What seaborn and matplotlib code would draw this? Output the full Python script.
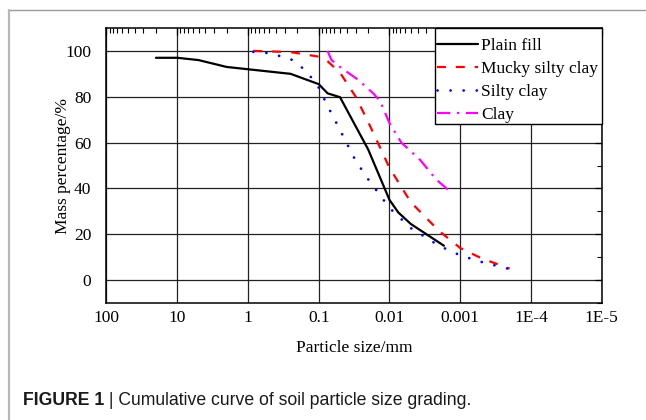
import matplotlib
matplotlib.use("Agg")
import matplotlib.pyplot as plt
from matplotlib.lines import Line2D
from matplotlib.patches import Rectangle
from matplotlib.ticker import FixedLocator, FixedFormatter, LogLocator, MultipleLocator, NullFormatter
import seaborn as sns
import pandas as pd

# Particle size (mm) and cumulative passing mass (%) for each soil
plain_size = [20, 10, 5, 2, 1, 0.25, 0.1, 0.075, 0.05, 0.02, 0.01, 0.0075, 0.005, 0.0017]
plain_pct = [97, 97, 96, 93, 92, 90, 85.5, 81.5, 79.8, 57, 35, 29.5, 24.5, 15]

mucky_size = [0.84, 0.25, 0.1, 0.075, 0.05, 0.03, 0.02, 0.01, 0.005, 0.002, 0.001, 0.0005, 0.0002]
mucky_pct = [100, 99.5, 97.5, 95.5, 90.5, 80, 69, 49, 34, 21.5, 14, 9.5, 5]

silty_size = [0.84, 0.5, 0.25, 0.15, 0.1, 0.075, 0.05, 0.03, 0.02, 0.01, 0.005, 0.002, 0.001, 0.0005, 0.0002]
silty_pct = [99.6, 99, 96.5, 91.3, 84, 76, 65.5, 52, 44, 31.5, 22.7, 15, 10.8, 7.9, 4.8]

clay_size = [0.075, 0.066, 0.05, 0.028, 0.017, 0.0135, 0.01, 0.0068, 0.0037, 0.0022, 0.0015]
clay_pct = [100, 96, 93, 87.5, 81.5, 78, 68.5, 60, 52.5, 44, 39.5]

series_names = ["Plain fill", "Mucky silty clay", "Silty clay", "Clay"]

x_ticks = [100, 10, 1, 0.1, 0.01, 0.001, 1e-4, 1e-5]
x_tick_labels = ["100", "10", "1", "0.1", "0.01", "0.001", "1E-4", "1E-5"]
y_ticks = [0, 20, 40, 60, 80, 100]
y_tick_labels = ["0", "20", "40", "60", "80", "100"]

sns.set_theme(style="white")
plt.rcParams["font.family"] = ["Liberation Serif", "DejaVu Serif"]

FS = 12.5

fig = plt.figure(figsize=(6.46, 4.20), dpi=100)
fig.patch.set_facecolor("white")
ax = fig.add_axes([106.5 / 646, 1 - 303 / 420, (601.7 - 106.5) / 646, (303 - 28) / 420])
ax.set_facecolor("white")

styles = [
    dict(color="black", linestyle="-", linewidth=1.6),
    dict(color="#ff0000", linestyle=(0, (4, 4.5)), linewidth=1.6),
    dict(color="#0000ff", linestyle=(0, (0.01, 4.7)), linewidth=2.0, dash_capstyle="round"),
    dict(color="#ff00ff", linestyle=(0, (6, 3, 1, 3)), linewidth=1.6),
]
data = [(plain_size, plain_pct), (mucky_size, mucky_pct), (silty_size, silty_pct), (clay_size, clay_pct)]

for name, (xs, ys), st in zip(series_names, data, styles):
    df = pd.DataFrame({"size": xs, "pct": ys})
    sns.lineplot(data=df, x="size", y="pct", ax=ax, sort=False, label=name, **st)

ax.set_xscale("log")
ax.set_xlim(100, 1e-5)
ax.set_ylim(-10, 110)

ax.xaxis.set_major_locator(FixedLocator(x_ticks))
ax.xaxis.set_major_formatter(FixedFormatter(x_tick_labels))
ax.xaxis.set_minor_locator(LogLocator(base=10, subs=range(2, 10), numticks=20))
ax.xaxis.set_minor_formatter(NullFormatter())
ax.yaxis.set_major_locator(FixedLocator(y_ticks))
ax.yaxis.set_major_formatter(FixedFormatter(y_tick_labels))
ax.yaxis.set_minor_locator(MultipleLocator(10))

ax.grid(True, which="major", color="#222222", linewidth=0.9)
ax.tick_params(which="both", direction="in", top=True, right=True, colors="black",
               labelcolor="black", labelsize=FS)
ax.tick_params(axis="x", which="major", length=5, width=0.9, pad=5)
ax.tick_params(axis="y", which="major", length=5, width=0.9, pad=11)
ax.tick_params(which="minor", length=3.5, width=0.8)
for sp in ax.spines.values():
    sp.set_color("black")
    sp.set_linewidth(1.1)

ax.set_xlabel("Particle size/mm", fontsize=FS, color="black")
ax.set_ylabel("Mass percentage/%", fontsize=FS, color="black")
ax.xaxis.set_label_coords(0.5, -0.135)
ax.yaxis.set_label_coords(-0.072, 0.5)

# legend box in the upper right corner, entries set inside it
ax.add_patch(Rectangle((0.6634, 0.651), 1 - 0.6634, 1 - 0.651, transform=ax.transAxes,
                       facecolor="white", edgecolor="black", linewidth=1.0,
                       clip_on=False, zorder=4.5))
leg = ax.legend(loc="upper left", bbox_to_anchor=(0.6674, 0.963), borderaxespad=0,
                frameon=False, fontsize=FS, handlelength=2.35, handletextpad=0.18,
                labelspacing=0.38, borderpad=0)
leg.set_zorder(6)
for t in leg.get_texts():
    t.set_color("black")

# page frame around the figure
fig.add_artist(Line2D([8 / 646, 1], [1 - 10 / 420, 1 - 10 / 420], transform=fig.transFigure,
                      color="#9a9a9a", linewidth=1.0))
fig.add_artist(Line2D([9 / 646, 9 / 646], [0, 1 - 10 / 420], transform=fig.transFigure,
                      color="#b8b8b8", linewidth=1.6))

# caption
cap_y = 1 - 405 / 420
cap_font = ["Liberation Sans", "DejaVu Sans"]
bold = fig.text(23 / 646, cap_y, "FIGURE 1", fontsize=12.7, fontweight="bold",
                family=cap_font, color="#1a1a1a", va="baseline")
fig.canvas.draw()
bb = bold.get_window_extent()
fig.text(bb.x1 / 646, cap_y, " | Cumulative curve of soil particle size grading.",
         fontsize=12.7, family=cap_font, color="#1a1a1a", va="baseline")

fig.savefig("out.png", dpi=100, facecolor="white")
